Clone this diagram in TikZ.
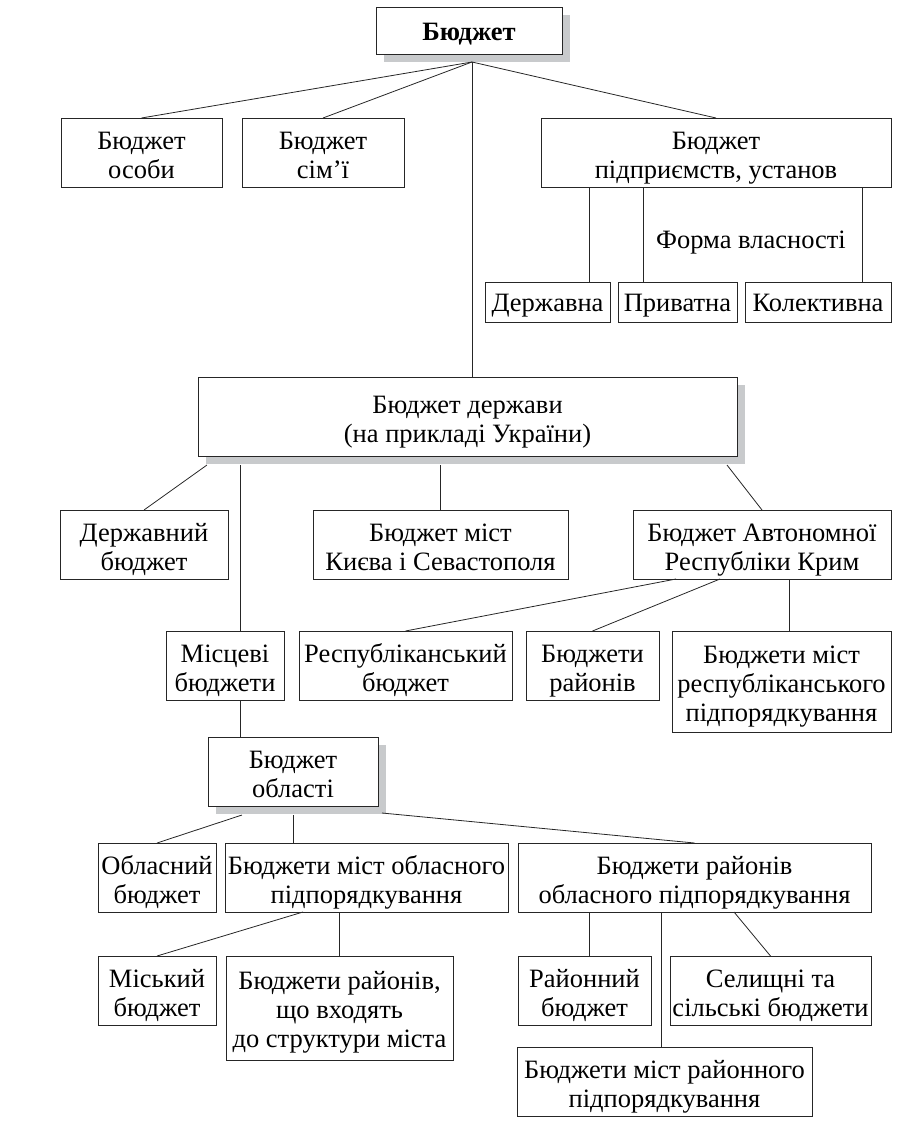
\documentclass[tikz,border=0pt]{standalone}
\usepackage{fontspec}
\setmainfont{Liberation Serif}
\usetikzlibrary{shadows}
\definecolor{shadowgray}{RGB}{200,202,204}
\tikzset{
  scheme/.style={x=1pt,y=-1pt,line width=0.8pt,font=\fontsize{26.5}{29}\selectfont},
  box/.style={draw=black!85,fill=white,align=center,inner sep=0pt,outer sep=0pt,text depth=0pt,text height=51pt},
  onebox/.style={box,text height=18pt},
  threebox/.style={box,text height=79pt},
  shadowed/.style={drop shadow={shadow xshift=8pt,shadow yshift=-8pt,fill=shadowgray,opacity=1}},
  link/.style={draw=black!85,line width=0.8pt},
}
\begin{document}
\begin{tikzpicture}[scheme]
\useasboundingbox (0,0) rectangle (908,1124);
% top level
\node[onebox,shadowed,text height=20pt,minimum width=186,minimum height=47,font=\fontsize{26.5}{29}\selectfont\bfseries] (budget) at (469,30.5) {Бюджет};
\node[box,minimum width=161,minimum height=69] (osoby) at (141.5,152.5) {Бюджет\\особи};
\node[box,minimum width=162,minimum height=69] (simi) at (323,152.5) {Бюджет\\сім’ї};
\node[box,minimum width=350,minimum height=69] (pidpr) at (716,152.5) {Бюджет\\підприємств, установ};
\node (forma) at (751,243) {Форма власності};
\node[onebox,minimum width=125,minimum height=40] (derzhavna) at (547.5,302.5) {Державна};
\node[onebox,minimum width=119,minimum height=40] (pryvatna) at (677.5,302.5) {Приватна};
\node[onebox,minimum width=146,minimum height=40] (kolekt) at (818,302.5) {Колективна};
% state budget
\node[box,shadowed,minimum width=539,minimum height=79] (derzh) at (467.5,416.5) {Бюджет держави\\(на прикладі України)};
\node[box,minimum width=168,minimum height=69] (derzhbud) at (144,544.5) {Державний\\бюджет};
\node[box,minimum width=255,minimum height=69] (kyiv) at (440.5,544.5) {Бюджет міст\\Києва і Севастополя};
\node[box,minimum width=258,minimum height=69] (krym) at (762,544.5) {Бюджет Автономної\\Республіки Крим};
\node[box,minimum width=118,minimum height=69] (mistsevi) at (225,665.5) {Місцеві\\бюджети};
\node[box,minimum width=213,minimum height=69] (respub) at (405.5,665.5) {Республіканський\\бюджет};
\node[box,minimum width=133,minimum height=69] (raion) at (592.5,665.5) {Бюджети\\районів};
\node[threebox,minimum width=219,minimum height=101] (respmist) at (781.5,681.5) {Бюджети міст\\республіканського\\підпорядкування};
% region
\node[box,shadowed,minimum width=170,minimum height=69] (oblast) at (293,771.5) {Бюджет\\області};
\node[box,minimum width=118,minimum height=69] (oblbud) at (157,877.5) {Обласний\\бюджет};
\node[box,minimum width=283,minimum height=69] (mistobl) at (366.5,877.5) {Бюджети міст обласного\\підпорядкування};
\node[box,minimum width=353,minimum height=69] (raionobl) at (694.5,877.5) {Бюджети районів\\обласного підпорядкування};
\node[box,minimum width=118,minimum height=69] (misky) at (157,990.5) {Міський\\бюджет};
\node[threebox,minimum width=227,minimum height=104] (raionmista) at (339.5,1008) {Бюджети районів,\\що входять\\до структури міста};
\node[box,minimum width=133,minimum height=69] (raionbud) at (584.5,990.5) {Районний\\бюджет};
\node[box,minimum width=201,minimum height=69] (selyshchni) at (770.5,990.5) {Селищні та\\сільські бюджети};
\node[box,minimum width=295,minimum height=69] (mistraion) at (664.5,1081.5) {Бюджети міст районного\\підпорядкування};
% connectors
\coordinate (budgetfoot) at ([xshift=3pt,yshift=-8pt]budget.south);
\draw[link] (budgetfoot) -- (osoby.north);
\draw[link] (budgetfoot) -- (simi.north);
\draw[link] (budgetfoot) -- (pidpr.north);
\draw[link] (budgetfoot) -- (budgetfoot |- derzh.north);
\draw[link] ([xshift=41.5pt]derzhavna.north) -- ([xshift=41.5pt]derzhavna.north |- pidpr.south);
\draw[link] ([xshift=-34.5pt]pryvatna.north) -- ([xshift=-34.5pt]pryvatna.north |- pidpr.south);
\draw[link] ([xshift=44pt]kolekt.north) -- ([xshift=44pt]kolekt.north |- pidpr.south);
\coordinate (derzhfoot) at ([yshift=-9pt]derzh.south);
\draw[link] ([xshift=9pt,yshift=-9pt]derzh.south west) -- (derzhbud.north);
\draw[link] ([xshift=15pt]mistsevi.north |- derzhfoot) -- ([xshift=15pt]mistsevi.north);
\draw[link] (kyiv.north |- derzhfoot) -- (kyiv.north);
\draw[link] ([xshift=-10pt,yshift=-9pt]derzh.south east) -- (krym.north);
\draw[link] ([xshift=-86pt]krym.south) -- (respub.north);
\draw[link] ([xshift=-42pt]krym.south) -- (raion.north);
\draw[link] ([xshift=7.5pt]respmist.north |- krym.south) -- ([xshift=7.5pt]respmist.north);
\draw[link] ([xshift=15pt]mistsevi.south) -- ([xshift=15pt]mistsevi.south |- oblast.north);
\draw[link] ([xshift=-51pt,yshift=-9pt]oblast.south) -- (oblbud.north);
\draw[link] ([yshift=-9pt]oblast.south) -- (oblast.south |- mistobl.north);
\draw[link] ([xshift=4pt,yshift=-7pt]oblast.south east) -- (raionobl.north);
\draw[link] ([xshift=-63.5pt]mistobl.south) -- (misky.north);
\draw[link] (raionmista.north |- mistobl.south) -- (raionmista.north);
\draw[link] ([xshift=4.5pt]raionbud.north |- raionobl.south) -- ([xshift=4.5pt]raionbud.north);
\draw[link] ([xshift=-3.5pt]mistraion.north |- raionobl.south) -- ([xshift=-3.5pt]mistraion.north);
\draw[link] ([xshift=39.5pt]raionobl.south) -- (selyshchni.north);
\end{tikzpicture}
\end{document}
